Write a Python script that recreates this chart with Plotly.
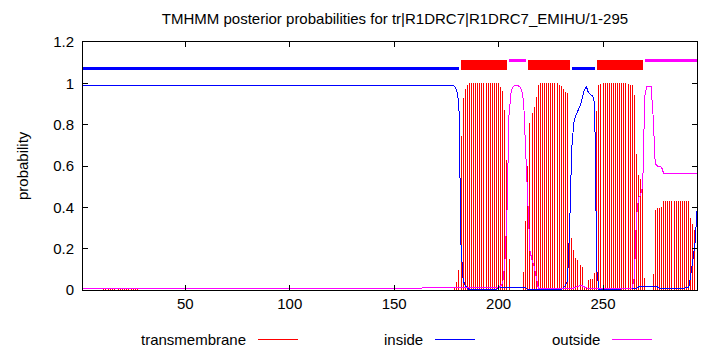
import plotly.graph_objects as go

# ---------------- data ----------------
residues = list(range(1, 296))

# transmembrane posterior probability, residues 1..295 (rows of 20)
tm = [
    0, 0, 0, 0, 0, 0, 0, 0, 0, 0, 0.005, 0.005, 0.005, 0.005, 0.005, 0.005, 0, 0.005, 0.005, 0.005,
    0.005, 0.005, 0.005, 0.005, 0.005, 0.005, 0.005, 0, 0, 0, 0, 0, 0, 0, 0, 0, 0, 0, 0, 0,
    0, 0, 0, 0, 0, 0, 0, 0, 0, 0, 0, 0, 0, 0, 0, 0, 0, 0, 0, 0,
    0, 0, 0, 0, 0, 0, 0, 0, 0, 0, 0, 0, 0, 0, 0, 0, 0, 0, 0, 0,
    0, 0, 0, 0, 0, 0, 0, 0, 0, 0, 0, 0, 0, 0, 0, 0, 0, 0, 0, 0,
    0, 0, 0, 0, 0, 0, 0, 0, 0, 0, 0, 0, 0, 0, 0, 0, 0, 0, 0, 0,
    0, 0, 0, 0, 0, 0, 0, 0, 0, 0, 0, 0, 0, 0, 0, 0, 0, 0, 0, 0,
    0, 0, 0, 0, 0, 0, 0, 0, 0, 0, 0, 0, 0, 0, 0, 0, 0, 0, 0, 0,
    0, 0, 0, 0, 0, 0, 0, 0, 0, 0, 0, 0, 0, 0, 0, 0, 0, 0, 0.01, 0.04,
    0.097, 0.745, 0.93, 0.975, 0.99, 1.0, 1.0, 1.0, 1.0, 1.0, 1.0, 1.0, 1.0, 1.0, 1.0, 1.0, 1.0, 1.0, 1.0, 1.0,
    0.98, 0.965, 0.87, 0.63, 0.15, 0, 0, 0, 0, 0, 0, 0.087, 0.335, 0.6, 0.81, 0.855, 0.885, 0.935, 0.99, 1.0,
    1.0, 1.0, 1.0, 1.0, 1.0, 1.0, 1.0, 1.0, 0.99, 0.985, 0.975, 0.96, 0.955, 0.31, 0.25, 0.194, 0.153, 0.145, 0.12, 0.11,
    0.016, 0.01, 0.048, 0.052, 0.052, 0.08, 0.866, 0.99, 0.995, 1.0, 1.0, 1.0, 1.0, 1.0, 1.0, 1.0, 1.0, 1.0, 1.0, 1.0,
    1.0, 0.995, 0.99, 0.99, 0.943, 0.656, 0.556, 0.537, 0.49, 0.06, 0, 0, 0, 0.076, 0.387, 0.395, 0.398, 0.403, 0.43, 0.43,
    0.43, 0.43, 0.43, 0.43, 0.43, 0.43, 0.43, 0.43, 0.43, 0.43, 0.43, 0.35, 0.32, 0.29, 0.25,
]

# inside posterior probability, residues 1..295 (rows of 20)
inside = [
    0.99, 0.99, 0.99, 0.99, 0.99, 0.99, 0.99, 0.99, 0.99, 0.99, 0.99, 0.99, 0.99, 0.99, 0.99, 0.99, 0.99, 0.99, 0.99, 0.99,
    0.99, 0.99, 0.99, 0.99, 0.99, 0.99, 0.99, 0.99, 0.99, 0.99, 0.99, 0.99, 0.99, 0.99, 0.99, 0.99, 0.99, 0.99, 0.99, 0.99,
    0.99, 0.99, 0.99, 0.99, 0.99, 0.99, 0.99, 0.99, 0.99, 0.99, 0.99, 0.99, 0.99, 0.99, 0.99, 0.99, 0.99, 0.99, 0.99, 0.99,
    0.99, 0.99, 0.99, 0.99, 0.99, 0.99, 0.99, 0.99, 0.99, 0.99, 0.99, 0.99, 0.99, 0.99, 0.99, 0.99, 0.99, 0.99, 0.99, 0.99,
    0.99, 0.99, 0.99, 0.99, 0.99, 0.99, 0.99, 0.99, 0.99, 0.99, 0.99, 0.99, 0.99, 0.99, 0.99, 0.99, 0.99, 0.99, 0.99, 0.99,
    0.99, 0.99, 0.99, 0.99, 0.99, 0.99, 0.99, 0.99, 0.99, 0.99, 0.99, 0.99, 0.99, 0.99, 0.99, 0.99, 0.99, 0.99, 0.99, 0.99,
    0.99, 0.99, 0.99, 0.99, 0.99, 0.99, 0.99, 0.99, 0.99, 0.99, 0.99, 0.99, 0.99, 0.99, 0.99, 0.99, 0.99, 0.99, 0.99, 0.99,
    0.99, 0.99, 0.99, 0.99, 0.99, 0.99, 0.99, 0.99, 0.99, 0.99, 0.99, 0.99, 0.99, 0.99, 0.99, 0.99, 0.99, 0.99, 0.99, 0.99,
    0.99, 0.99, 0.99, 0.99, 0.99, 0.99, 0.99, 0.99, 0.99, 0.99, 0.99, 0.99, 0.99, 0.99, 0.99, 0.99, 0.99, 0.99, 0.985, 0.965,
    0.9, 0.22, 0.05, 0.02, 0.01, 0.002, 0.002, 0.002, 0.002, 0.002, 0.002, 0.002, 0.002, 0.002, 0.002, 0.002, 0.002, 0.002, 0.002, 0.012,
    0.012, 0.012, 0.012, 0.012, 0.012, 0.012, 0.012, 0.012, 0.012, 0.012, 0.012, 0.012, 0.012, 0.002, 0.002, 0.002, 0.002, 0.002, 0.002, 0.002,
    0.002, 0.002, 0.002, 0.002, 0.002, 0.002, 0.002, 0.002, 0.002, 0.002, 0.01, 0.02, 0.045, 0.3, 0.68, 0.81, 0.845, 0.865, 0.89, 0.925,
    0.965, 0.985, 0.955, 0.945, 0.94, 0.9, 0.1, 0.003, 0.003, 0.003, 0.003, 0.003, 0.003, 0.006, 0.006, 0.006, 0.006, 0.006, 0.006, 0.006,
    0.006, 0.006, 0.006, 0.006, 0.006, 0.006, 0.015, 0.015, 0.015, 0.015, 0.015, 0.015, 0.015, 0.015, 0.015, 0.015, 0.007, 0.007, 0.007, 0.007,
    0.007, 0.007, 0.007, 0.007, 0.007, 0.007, 0.007, 0.007, 0.007, 0.007, 0.01, 0.07, 0.14, 0.22, 0.38,
]

# outside posterior probability, residues 1..295 (rows of 20)
outside = [
    0.008, 0.008, 0.008, 0.008, 0.008, 0.008, 0.008, 0.008, 0.008, 0.008, 0.008, 0.008, 0.008, 0.008, 0.008, 0.008, 0.008, 0.008, 0.008, 0.008,
    0.008, 0.008, 0.008, 0.008, 0.008, 0.008, 0.008, 0.008, 0.008, 0.008, 0.008, 0.008, 0.008, 0.008, 0.008, 0.008, 0.008, 0.008, 0.008, 0.008,
    0.008, 0.008, 0.008, 0.008, 0.008, 0.008, 0.008, 0.008, 0.008, 0.008, 0.008, 0.008, 0.008, 0.008, 0.008, 0.008, 0.008, 0.008, 0.008, 0.008,
    0.008, 0.008, 0.008, 0.008, 0.008, 0.008, 0.008, 0.008, 0.008, 0.008, 0.008, 0.008, 0.008, 0.008, 0.008, 0.008, 0.008, 0.008, 0.008, 0.008,
    0.008, 0.008, 0.008, 0.008, 0.008, 0.008, 0.008, 0.008, 0.008, 0.008, 0.008, 0.008, 0.008, 0.008, 0.008, 0.008, 0.008, 0.008, 0.008, 0.008,
    0.008, 0.008, 0.008, 0.008, 0.008, 0.008, 0.008, 0.008, 0.008, 0.008, 0.008, 0.008, 0.008, 0.008, 0.008, 0.008, 0.008, 0.008, 0.008, 0.008,
    0.008, 0.008, 0.008, 0.008, 0.008, 0.008, 0.008, 0.008, 0.008, 0.008, 0.008, 0.008, 0.008, 0.008, 0.008, 0.008, 0.008, 0.008, 0.008, 0.008,
    0.008, 0.008, 0.008, 0.008, 0.008, 0.008, 0.008, 0.008, 0.008, 0.008, 0.008, 0.008, 0.008, 0.008, 0.008, 0.008, 0.008, 0.008, 0.008, 0.008,
    0.008, 0.008, 0.008, 0.008, 0.008, 0.008, 0.008, 0.008, 0.008, 0.008, 0.008, 0.008, 0.008, 0.008, 0.008, 0.008, 0.008, 0.008, 0.008, 0.008,
    0.008, 0.008, 0.008, 0.008, 0.008, 0.008, 0.008, 0.008, 0.008, 0.008, 0.008, 0.008, 0.008, 0.008, 0.008, 0.008, 0.008, 0.008, 0.008, 0.01,
    0.02, 0.035, 0.13, 0.37, 0.85, 0.96, 0.985, 0.99, 0.99, 0.985, 0.97, 0.91, 0.665, 0.39, 0.19, 0.145, 0.115, 0.065, 0.01, 0.006,
    0.006, 0.006, 0.006, 0.006, 0.006, 0.006, 0.006, 0.006, 0.006, 0.006, 0.006, 0.006, 0.006, 0.006, 0.006, 0.01, 0.015, 0.018, 0.02, 0.02,
    0.015, 0.01, 0.006, 0.006, 0.006, 0.006, 0.006, 0.006, 0.006, 0.006, 0.006, 0.006, 0.006, 0.006, 0.006, 0.006, 0.006, 0.006, 0.006, 0.006,
    0.006, 0.006, 0.006, 0.01, 0.06, 0.35, 0.445, 0.46, 0.5, 0.94, 0.987, 0.987, 0.985, 0.84, 0.61, 0.6, 0.598, 0.595, 0.565, 0.565,
    0.565, 0.565, 0.565, 0.565, 0.565, 0.565, 0.565, 0.565, 0.565, 0.565, 0.565, 0.565, 0.565, 0.565, 0.565,
]

# predicted topology segments (label, first residue, last residue)
topo_labels = ["inside", "TMhelix", "outside", "TMhelix", "inside", "TMhelix", "outside"]
topo_start = [1, 182, 205, 214, 235, 247, 270]
topo_end = [181, 204, 213, 234, 246, 269, 295]

x_ticks = [50, 100, 150, 200, 250]
y_ticks = [0, 0.2, 0.4, 0.6, 0.8, 1.0, 1.2]
series_names = ["transmembrane", "inside", "outside"]
title_text = "TMHMM posterior probabilities for tr|R1DRC7|R1DRC7_EMIHU/1-295"

if not (len(tm) == len(inside) == len(outside) == len(residues)):
    raise ValueError("lengths %d %d %d" % (len(tm), len(inside), len(outside)))

# ---------------- styling ----------------
FONT = "Liberation Sans, Arial, Helvetica, sans-serif"
RED, BLUE, MAGENTA = "#ff0000", "#0000ff", "#ff00ff"
colors = {"transmembrane": RED, "inside": BLUE, "outside": MAGENTA}
topo_level = {"inside": 1.07, "TMhelix": 1.09, "outside": 1.11}
topo_width = {"inside": 3, "TMhelix": 10, "outside": 3}
topo_color = {"inside": BLUE, "TMhelix": RED, "outside": MAGENTA}

fig = go.Figure()

# transmembrane impulses
xi, yi = [], []
for r, v in zip(residues, tm):
    if v > 0:
        xi += [r, r, None]
        yi += [0, v, None]
fig.add_trace(go.Scatter(x=xi, y=yi, mode="lines", line=dict(color=RED, width=1),
                         name="transmembrane", hoverinfo="skip", showlegend=False))
fig.add_trace(go.Scatter(x=residues, y=inside, mode="lines", line=dict(color=BLUE, width=1),
                         name="inside", showlegend=False))
fig.add_trace(go.Scatter(x=residues, y=outside, mode="lines", line=dict(color=MAGENTA, width=1),
                         name="outside", showlegend=False))

# topology bars
for lab, s, e in zip(topo_labels, topo_start, topo_end):
    lvl = topo_level[lab]
    fig.add_trace(go.Scatter(x=[s, e], y=[lvl, lvl], mode="lines",
                             line=dict(color=topo_color[lab], width=topo_width[lab]),
                             showlegend=False, hoverinfo="skip"))

W, H = 710, 350
ML, MR, MT, MB = 83, 13, 42, 60
pw, ph = W - ML - MR, H - MT - MB

def px_x(p):
    return (p - ML) / pw

def px_y(p):
    return (H - MB - p) / ph

annotations = []
shapes = []
# legend: text followed by a line sample
legend_text_right = [248, 425, 602]
legend_y = 339
for name, xr in zip(series_names, legend_text_right):
    annotations.append(dict(text=name, xref="paper", yref="paper", x=px_x(xr), y=px_y(legend_y),
                            xanchor="right", yanchor="middle", showarrow=False,
                            font=dict(family=FONT, size=15, color="black")))
    shapes.append(dict(type="line", xref="paper", yref="paper",
                       x0=px_x(xr + 10), x1=px_x(xr + 50), y0=px_y(legend_y), y1=px_y(legend_y),
                       line=dict(color=colors[name], width=1)))

# y axis title
annotations.append(dict(text="probability", xref="paper", yref="paper", x=px_x(22), y=0.5,
                        xanchor="center", yanchor="middle", textangle=-90, showarrow=False,
                        font=dict(family=FONT, size=15, color="black")))

axis_common = dict(showline=True, linecolor="black", linewidth=1, mirror="ticks",
                   ticks="inside", ticklen=5, tickcolor="black", tickwidth=1,
                   showgrid=False, zeroline=False,
                   tickfont=dict(family=FONT, size=15, color="black"))

fig.update_layout(
    width=W, height=H,
    margin=dict(l=ML, r=MR, t=MT, b=MB, pad=0),
    paper_bgcolor="white", plot_bgcolor="white",
    title=dict(text=title_text, x=px_x(395), xref="paper", xanchor="center",
               y=1 - 19 / H, yref="container", yanchor="middle",
               font=dict(family=FONT, size=15, color="black")),
    xaxis=dict(range=[1, 295], tickvals=x_ticks, ticklabelstandoff=0, **axis_common),
    yaxis=dict(range=[0, 1.2], tickvals=y_ticks, ticklabelstandoff=5, **axis_common),
    annotations=annotations, shapes=shapes, showlegend=False,
)

# aliased (pixel-crisp) line rendering, like the original bitmap plot
crisp_js = (
    "var s=document.createElement('style');"
    "s.textContent='.scatterlayer .js-line, .shapelayer path{shape-rendering:crispEdges}';"
    "document.head.appendChild(s);"
)

fig.write_html("out.html", post_script=crisp_js)
